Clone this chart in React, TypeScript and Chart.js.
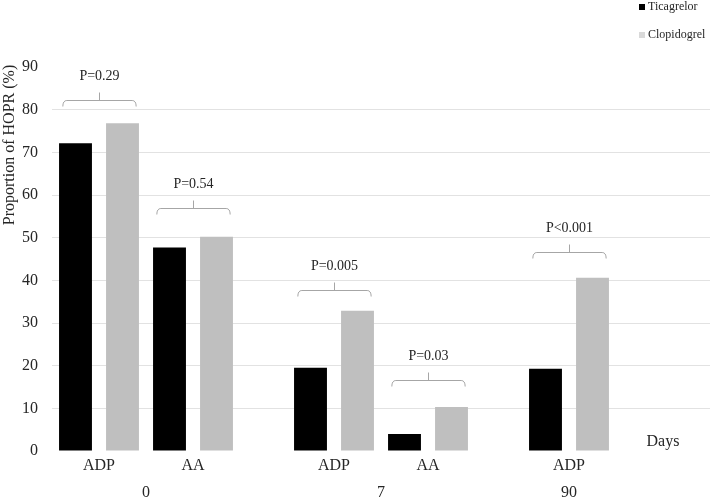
import React, { useEffect, useRef } from "react";
import { Chart, registerables } from "chart.js";

Chart.register(...registerables);

// ---- data ----
const categories = ["ADP", "AA", "ADP", "AA", "ADP"];
const days = ["0", "0", "7", "7", "90"];
const seriesNames = ["Ticagrelor", "Clopidogrel"];
const ticagrelor = [72.1, 47.7, 19.5, 4.0, 19.3];
const clopidogrel = [76.8, 50.2, 32.9, 10.3, 40.6];
const pValues = ["P=0.29", "P=0.54", "P=0.005", "P=0.03", "P<0.001"];
const bracketLevels = [82.2, 57.0, 37.8, 16.7, 46.7];
const yTicks = [0, 10, 20, 30, 40, 50, 60, 70, 80, 90];
const yAxisTitle = "Proportion of HOPR (%)";
const xAxisTitle = "Days";

// ---- styles ----
const FONT = "'Liberation Serif', 'Times New Roman', serif";
const TEXT = "#262626";
const BAR_COLORS = ["#000000", "#bfbfbf"];
const LEGEND_COLORS = ["#000000", "#d9d9d9"];
const GRID = "#e2e2e2";
const BRACKET = "#a6a6a6";

// x positions: one unit per category, an extra half unit between day groups
const xPos: number[] = [];
{
  let p = 1;
  categories.forEach((_, i) => {
    if (i > 0) p += days[i] !== days[i - 1] ? 1.5 : 1;
    xPos.push(p);
  });
}
const groupDays = Array.from(new Set(days));
const groupCenters = groupDays.map((d) => {
  const ps = xPos.filter((_, i) => days[i] === d);
  return ps.reduce((a, b) => a + b, 0) / ps.length;
});

const annotations = {
  id: "annotations",
  afterDraw(chart: any) {
    const { ctx, chartArea } = chart;
    const x = chart.scales.x;
    const y = chart.scales.y;
    const unit = x.getPixelForValue(1) - x.getPixelForValue(0);
    ctx.save();

    // brackets + p-values
    const half = unit * 0.39;
    ctx.strokeStyle = BRACKET;
    ctx.lineWidth = 1;
    xPos.forEach((v, i) => {
      const cx = Math.round(x.getPixelForValue(v)) + 0.5;
      const yb = Math.round(y.getPixelForValue(bracketLevels[i])) + 0.5;
      const l = cx - half;
      const r = cx + half;
      ctx.beginPath();
      ctx.moveTo(l, yb + 6);
      ctx.quadraticCurveTo(l, yb, l + 4, yb);
      ctx.lineTo(r - 4, yb);
      ctx.quadraticCurveTo(r, yb, r, yb + 6);
      ctx.moveTo(cx, yb);
      ctx.lineTo(cx, yb - 8);
      ctx.stroke();
      ctx.fillStyle = TEXT;
      ctx.font = `14px ${FONT}`;
      ctx.textAlign = "center";
      ctx.textBaseline = "middle";
      ctx.fillText(pValues[i], cx, yb - 24);
    });

    // day group labels
    ctx.fillStyle = TEXT;
    ctx.font = `16px ${FONT}`;
    ctx.textAlign = "center";
    ctx.textBaseline = "middle";
    groupDays.forEach((d, i) => {
      ctx.fillText(d, x.getPixelForValue(groupCenters[i]), chartArea.bottom + 42);
    });
    ctx.fillText(xAxisTitle, x.getPixelForValue(7), chartArea.bottom - 9);

    // y axis title
    ctx.save();
    ctx.translate(10, 145);
    ctx.rotate(-Math.PI / 2);
    ctx.fillText(yAxisTitle, 0, 0);
    ctx.restore();

    // legend
    ctx.font = `12px ${FONT}`;
    ctx.textAlign = "left";
    seriesNames.forEach((name, i) => {
      const ly = 7 + i * 28;
      ctx.fillStyle = LEGEND_COLORS[i];
      ctx.fillRect(639, ly - 3, 6, 6);
      ctx.fillStyle = TEXT;
      ctx.fillText(name, 648, ly);
    });
    ctx.restore();
  },
};

export default function App() {
  const ref = useRef<HTMLCanvasElement | null>(null);

  useEffect(() => {
    if (!ref.current) return;
    const chart = new Chart(ref.current, {
      type: "bar",
      data: {
        datasets: [
          {
            label: seriesNames[0],
            data: ticagrelor.map((v, i) => ({ x: xPos[i], y: v })),
            backgroundColor: BAR_COLORS[0],
          },
          {
            label: seriesNames[1],
            data: clopidogrel.map((v, i) => ({ x: xPos[i], y: v })),
            backgroundColor: BAR_COLORS[1],
          },
        ],
      },
      options: {
        responsive: false,
        devicePixelRatio: 1,
        animation: false,
        categoryPercentage: 1.0,
        barPercentage: 0.7,
        layout: { padding: { top: 67, right: 1, left: 0, bottom: 0 } },
        plugins: { legend: { display: false }, tooltip: { enabled: false } },
        scales: {
          x: {
            type: "linear",
            min: 0.5,
            max: 7.5,
            offset: false,
            grid: { display: false },
            border: { display: false },
            afterBuildTicks: (s: any) => {
              s.ticks = xPos.map((v) => ({ value: v }));
            },
            afterFit: (s: any) => {
              s.height = 50;
            },
            ticks: {
              autoSkip: false,
              maxRotation: 0,
              padding: -3,
              color: TEXT,
              font: { family: FONT, size: 16 },
              callback: (v: any) => {
                const i = xPos.indexOf(Number(v));
                return i >= 0 ? categories[i] : "";
              },
            },
          },
          y: {
            min: 0,
            max: 90,
            afterBuildTicks: (s: any) => {
              s.ticks = yTicks.map((v) => ({ value: v }));
            },
            afterFit: (s: any) => {
              s.width = 52;
            },
            border: { display: false },
            grid: {
              drawTicks: false,
              color: (c: any) =>
                c.tick && (c.tick.value === 0 || c.tick.value === 90) ? "rgba(0,0,0,0)" : GRID,
            },
            ticks: {
              padding: 14,
              color: TEXT,
              font: { family: FONT, size: 16 },
            },
          },
        },
      } as any,
      plugins: [annotations],
    });
    return () => chart.destroy();
  }, []);

  return (
    <canvas
      ref={ref}
      width={711}
      height={501}
      style={{ position: "fixed", left: 0, top: 0, width: 711, height: 501 }}
    />
  );
}
